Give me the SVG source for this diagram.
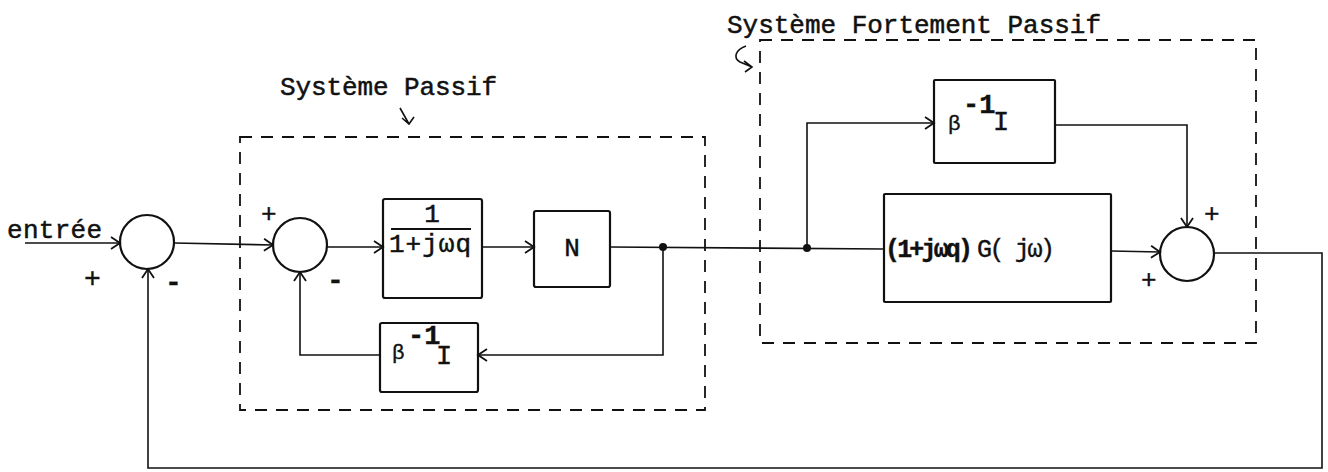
<svg xmlns="http://www.w3.org/2000/svg" width="1328" height="472" viewBox="0 0 1328 472">
<style>
.ln{fill:none;stroke:#111;stroke-width:1.6}
.bx{fill:none;stroke:#111;stroke-width:2.2}
.cir{fill:none;stroke:#111;stroke-width:2.2}
.dash{fill:none;stroke:#111;stroke-width:1.8;stroke-dasharray:12 9}
.t{font-family:"Liberation Mono","DejaVu Sans Mono",monospace;font-size:26px;fill:#111;stroke:#111;stroke-width:0.5}
.s{font-family:"Liberation Mono","DejaVu Sans Mono",monospace;fill:#111;stroke:#111;stroke-width:0.4}
</style>
<defs>
<marker id="ah" markerWidth="14" markerHeight="14" refX="12" refY="7" orient="auto" markerUnits="userSpaceOnUse">
<path d="M3,1 L12,7 L3,13" fill="none" stroke="#111" stroke-width="1.8"/>
</marker>
</defs>
<rect width="1328" height="472" fill="#fff"/>

<g id="sys-passif">
<rect class="dash" x="240" y="137" width="465" height="273"/>
<text class="t" x="280" y="95" textLength="217">Système Passif</text>
<path class="ln" d="M400,108 L409,124 M402,118 L409,124 L414,117"/>
</g>
<g id="sys-fortement">
<rect class="dash" x="760" y="40" width="496" height="303"/>
<text class="t" x="727" y="33" textLength="374">Système Fortement Passif</text>
<path class="ln" d="M746,46 C735,50 733,58 740,62 L752,67 M744,61 L752,67 L745,72"/>
</g>

<g id="entree">
<text class="t" x="7" y="238" textLength="95">entrée</text>
</g>
<g id="sum1">
<circle class="cir" cx="147" cy="242" r="27"/>
<text class="s" x="84" y="287" font-size="28">+</text>
<text class="s" x="165" y="291" font-size="28" font-weight="bold">-</text>
</g>
<g id="sum2">
<circle class="cir" cx="300" cy="245" r="27"/>
<text class="s" x="261" y="222" font-size="26">+</text>
<text class="s" x="327" y="289" font-size="28" font-weight="bold">-</text>
</g>
<g id="box-frac">
<rect class="bx" x="383" y="199" width="99" height="99" rx="2"/>
<text class="t" x="432" y="222" text-anchor="middle">1</text>
<line x1="391" y1="229" x2="471" y2="229" stroke="#111" stroke-width="2.2"/>
<text class="t" x="389" y="252" textLength="82">1+jωq</text>
</g>
<g id="box-N">
<rect class="bx" x="534" y="211" width="76" height="76" rx="2"/>
<text class="t" x="572" y="256" text-anchor="middle">N</text>
</g>
<g id="box-beta1">
<rect class="bx" x="380" y="323" width="98" height="69" rx="2"/>
<text class="s" x="392" y="359" font-size="21">β</text>
<text class="s" x="408" y="344" font-size="27" font-weight="bold">-1</text>
<text class="s" x="436" y="364" font-size="27">I</text>
</g>
<g id="box-beta2">
<rect class="bx" x="934" y="80" width="121" height="83" rx="1"/>
<text class="s" x="948" y="130" font-size="21">β</text>
<text class="s" x="963" y="113" font-size="27" font-weight="bold">-1</text>
<text class="s" x="993" y="130" font-size="27">I</text>
</g>
<g id="box-G">
<rect class="bx" x="884" y="194" width="227" height="108" rx="1"/>
<text class="s" x="885" y="257" font-size="25" font-weight="bold" textLength="88">(1+jωq)</text>
<text class="s" x="977" y="257" font-size="25" textLength="78">G( jω)</text>
</g>
<g id="sum3">
<circle class="cir" cx="1187" cy="254" r="27"/>
<text class="s" x="1204" y="222" font-size="26">+</text>
<text class="s" x="1141" y="288" font-size="26">+</text>
</g>

<g id="connectors">
<line class="ln" x1="25" y1="243" x2="120" y2="243" marker-end="url(#ah)"/>
<line class="ln" x1="174" y1="243" x2="273" y2="245" marker-end="url(#ah)"/>
<line class="ln" x1="327" y1="247" x2="383" y2="247" marker-end="url(#ah)"/>
<line class="ln" x1="482" y1="247" x2="534" y2="247" marker-end="url(#ah)"/>
<path class="ln" d="M610,247 L884,249"/>
<circle cx="663" cy="247" r="4" fill="#111"/>
<path class="ln" d="M663,247 L663,355 L478,355" marker-end="url(#ah)"/>
<path class="ln" d="M380,355 L300,355 L300,272" marker-end="url(#ah)"/>
<circle cx="807" cy="248" r="4" fill="#111"/>
<path class="ln" d="M807,248 L807,123 L934,123" marker-end="url(#ah)"/>
<path class="ln" d="M1055,125 L1187,125 L1187,227" marker-end="url(#ah)"/>
<line class="ln" x1="1111" y1="251" x2="1160" y2="252" marker-end="url(#ah)"/>
<path class="ln" d="M1214,253 L1322,253 L1322,468 L148,468 L148,269" marker-end="url(#ah)"/>
</g>
</svg>
